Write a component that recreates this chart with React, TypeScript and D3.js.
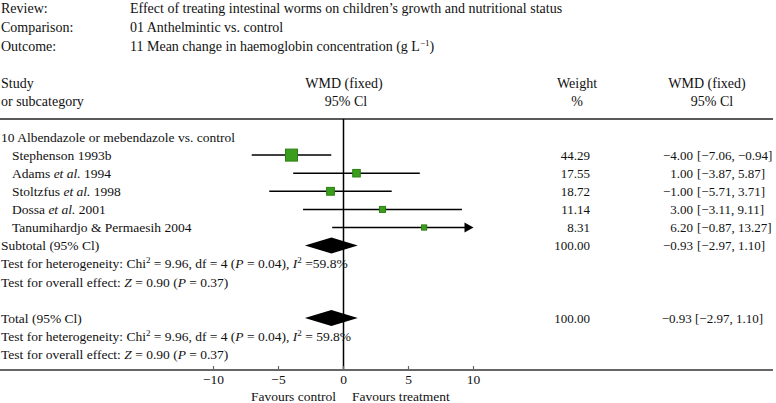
import React from "react";
import * as d3 from "d3";

// study rows
const studyNames = ["Stephenson", "Adams", "Stoltzfus", "Dossa", "Tanumihardjo & Permaesih"];
const studyEtAl = [false, true, true, true, false];
const studyYears = ["1993b", "1994", "1998", "2001", "2004"];
const wmd = [-4.0, 1.0, -1.0, 3.0, 6.2];
const ciLow = [-7.06, -3.87, -5.71, -3.11, -0.87];
const ciHigh = [-0.94, 5.87, 3.71, 9.11, 13.27];
const weights = [44.29, 17.55, 18.72, 11.14, 8.31];

// pooled (subtotal and total are the same)
const pooled = [-0.93, -2.97, 1.1];
const pooledWeight = 100.0;

const xTicks = [-10, -5, 0, 5, 10];
const xDomain = [-10, 10];

const W = 776;
const H = 403;
const FONT = "'Liberation Serif', 'Times New Roman', serif";
const FS = 13.5;

const App = () => {
  const x = d3.scaleLinear().domain(xDomain).range([213.5, 473.5]);
  const row = d3.scaleLinear().domain([0, 12]).range([137, 354.2]);
  const boxSize = d3.scaleSqrt().domain([0, 44.29]).range([0, 12]);
  const f2 = d3.format(".2f");

  const axisY = 370;
  const topRule = 119;
  const right = 773;

  const diamond = (yc: number) => {
    const h = 8;
    return `M${x(pooled[1])},${yc} L${x(pooled[0])},${yc - h} L${x(pooled[2])},${yc} L${x(pooled[0])},${yc + h} Z`;
  };

  const estX = 693;
  const ciX = 697;
  const colFs = 13;

  return (
    <svg
      width={W}
      height={H}
      style={{ position: "absolute", left: 0, top: 0, background: "#fff" }}
      fontFamily={FONT}
      fontSize={FS}
      fill="#111"
    >
      {/* header info */}
      {[
        ["Review:", "Effect of treating intestinal worms on children\u2019s growth and nutritional status"],
        ["Comparison:", "01 Anthelmintic vs. control"],
        ["Outcome:", "11 Mean change in haemoglobin concentration (g L"],
      ].map((d, i) => (
        <g key={d[0]} fontSize={14}>
          <text x={1} y={13 + i * 19}>{d[0]}</text>
          <text x={130} y={13 + i * 19}>
            {d[1]}
            {i === 2 && (
              <>
                <tspan baselineShift="super" fontSize={9}>{"\u22121"}</tspan>
                <tspan>)</tspan>
              </>
            )}
          </text>
        </g>
      ))}

      {/* column headers */}
      <g fontSize={14}>
        <text x={1} y={88}>Study</text>
        <text x={1} y={106}>or subcategory</text>
        <text x={344} y={88} textAnchor="middle">WMD (fixed)</text>
        <text x={346} y={106} textAnchor="middle">95% Cl</text>
        <text x={577} y={88} textAnchor="middle">Weight</text>
        <text x={577} y={106} textAnchor="middle">%</text>
        <text x={707} y={88} textAnchor="middle">WMD (fixed)</text>
        <text x={712} y={106} textAnchor="middle">95% Cl</text>
      </g>

      <line x1={0} x2={right} y1={topRule} y2={topRule} stroke="#222" strokeWidth={1.5} />

      {/* zero line */}
      <line x1={x(0)} x2={x(0)} y1={topRule} y2={axisY} stroke="#000" strokeWidth={1.5} />

      <text x={1} y={row(0)} dy="0.35em">10 Albendazole or mebendazole vs. control</text>

      {studyNames.map((n, i) => {
        const yc = row(i + 1);
        const s = boxSize(weights[i]);
        const clipped = ciHigh[i] > xDomain[1];
        const xr = clipped ? x(xDomain[1]) : x(ciHigh[i]);
        return (
          <g key={n}>
            <text x={12} y={yc} dy="0.35em">
              {n + " "}
              {studyEtAl[i] && <tspan fontStyle="italic">et al.</tspan>}
              {studyEtAl[i] ? " " + studyYears[i] : studyYears[i]}
            </text>
            <line
              x1={x(ciLow[i])}
              x2={clipped ? xr - 6 : xr}
              y1={yc}
              y2={yc}
              stroke="#000"
              strokeWidth={1.5}
            />
            {clipped && <path d={`M${xr - 9},${yc - 5} L${xr},${yc} L${xr - 9},${yc + 5} Z`} fill="#000" />}
            <rect
              x={x(wmd[i]) - s / 2}
              y={yc - s / 2}
              width={s}
              height={s}
              fill="#3a9e1c"
              stroke="#2c7f12"
              strokeWidth={1}
            />
            <g fontSize={colFs}>
              <text x={590} y={yc} dy="0.35em" textAnchor="end">{f2(weights[i])}</text>
              <text x={estX} y={yc} dy="0.35em" textAnchor="end">{f2(wmd[i])}</text>
              <text x={ciX} y={yc} dy="0.35em">{`[${f2(ciLow[i])}, ${f2(ciHigh[i])}]`}</text>
            </g>
          </g>
        );
      })}

      {/* subtotal */}
      <text x={1} y={row(6)} dy="0.35em">Subtotal (95% Cl)</text>
      <path d={diamond(row(6))} fill="#000" />
      <g fontSize={colFs}>
        <text x={590} y={row(6)} dy="0.35em" textAnchor="end">{f2(pooledWeight)}</text>
        <text x={estX} y={row(6)} dy="0.35em" textAnchor="end">{f2(pooled[0])}</text>
        <text x={ciX} y={row(6)} dy="0.35em">{`[${f2(pooled[1])}, ${f2(pooled[2])}]`}</text>
      </g>
      <text x={1} y={row(7)} dy="0.35em">
        Test for heterogeneity: Chi<tspan baselineShift="super" fontSize={9}>2</tspan> = 9.96, df = 4 (
        <tspan fontStyle="italic">P</tspan> = 0.04), <tspan fontStyle="italic">I</tspan>
        <tspan baselineShift="super" fontSize={9}>2</tspan> =59.8%
      </text>
      <text x={1} y={row(8)} dy="0.35em">
        Test for overall effect: <tspan fontStyle="italic">Z</tspan> = 0.90 (<tspan fontStyle="italic">P</tspan> = 0.37)
      </text>

      {/* total */}
      <text x={1} y={row(10)} dy="0.35em">Total (95% Cl)</text>
      <path d={diamond(row(10))} fill="#000" />
      <g fontSize={colFs}>
        <text x={590} y={row(10)} dy="0.35em" textAnchor="end">{f2(pooledWeight)}</text>
        <text x={763} y={row(10)} dy="0.35em" textAnchor="end">
          {`${f2(pooled[0])} [${f2(pooled[1])}, ${f2(pooled[2])}]`}
        </text>
      </g>
      <text x={1} y={row(11)} dy="0.35em">
        Test for heterogeneity: Chi<tspan baselineShift="super" fontSize={9}>2</tspan> = 9.96, df = 4 (
        <tspan fontStyle="italic">P</tspan> = 0.04), <tspan fontStyle="italic">I</tspan>
        <tspan baselineShift="super" fontSize={9}>2</tspan> = 59.8%
      </text>
      <text x={1} y={row(12)} dy="0.35em">
        Test for overall effect: <tspan fontStyle="italic">Z</tspan> = 0.90 (<tspan fontStyle="italic">P</tspan> = 0.37)
      </text>

      {/* axis */}
      <line x1={0} x2={right} y1={axisY} y2={axisY} stroke="#666" strokeWidth={2} />
      {xTicks.map((t) => (
        <g key={t}>
          <line x1={x(t)} x2={x(t)} y1={axisY - 4} y2={axisY} stroke="#666" strokeWidth={1.2} />
          <text x={x(t)} y={axisY + 14} textAnchor="middle">{t < 0 ? "\u2212" + Math.abs(t) : t}</text>
        </g>
      ))}
      <text x={336} y={401} textAnchor="end">Favours control</text>
      <text x={352} y={401}>Favours treatment</text>
    </svg>
  );
};

export default App;
